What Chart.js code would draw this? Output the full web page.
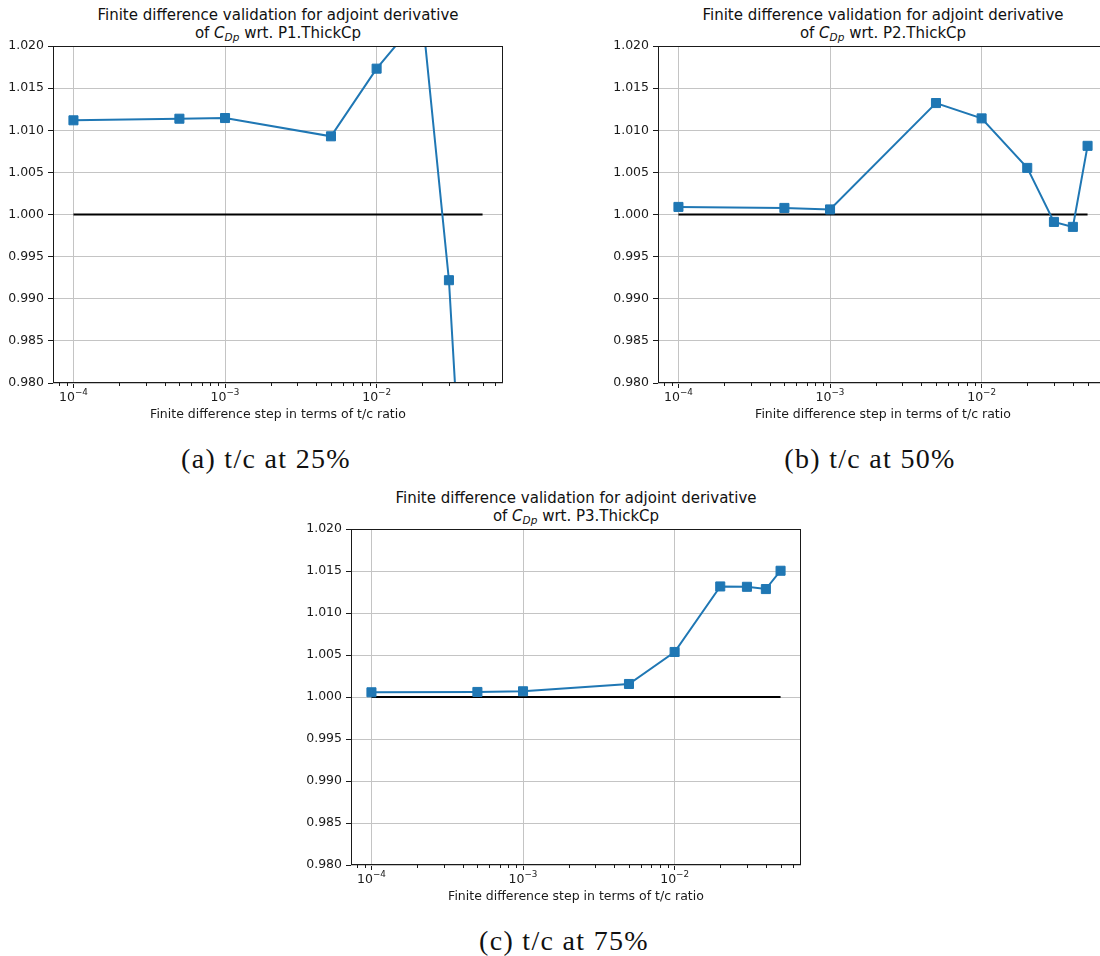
<!DOCTYPE html>
<html>
<head>
<meta charset="utf-8">
<script src="https://cdn.jsdelivr.net/npm/chart.js@4.4.0/dist/chart.umd.min.js"></script>
<style>
  html, body { margin: 0; padding: 0; background: #fff; }
  body { width: 1100px; height: 956px; overflow: hidden; position: relative; }
  canvas { position: absolute; }
  .title {
    position: absolute; width: 460px; text-align: center;
    font: 15px "DejaVu Sans", sans-serif; line-height: 18px; color: #111;
  }
  .title sub { font-size: 10.5px; vertical-align: -3px; line-height: 0; }
  .caption {
    position: absolute; width: 300px; text-align: center;
    font: 28px "Liberation Serif", serif; line-height: 32px; color: #111;
    letter-spacing: 1.3px;
  }
</style>
</head>
<body>
<div class="title" id="titleA">Finite difference validation for adjoint derivative<br>of <i>C</i><sub><i>Dp</i></sub> wrt. P1.ThickCp</div>
<div class="title" id="titleB">Finite difference validation for adjoint derivative<br>of <i>C</i><sub><i>Dp</i></sub> wrt. P2.ThickCp</div>
<div class="title" id="titleC">Finite difference validation for adjoint derivative<br>of <i>C</i><sub><i>Dp</i></sub> wrt. P3.ThickCp</div>
<canvas id="chartA" width="513" height="389" style="left:0px;top:34px"></canvas>
<canvas id="chartB" width="513" height="389" style="left:605px;top:34px"></canvas>
<canvas id="chartC" width="513" height="388" style="left:298px;top:517px"></canvas>
<div class="caption" style="left:116px;top:443px">(a) t/c at 25%</div>
<div class="caption" style="left:720px;top:443px">(b) t/c at 50%</div>
<div class="caption" style="left:414px;top:925px">(c) t/c at 75%</div>

<script>
// finite difference steps (t/c ratio)
const steps = [1e-4, 5e-4, 1e-3, 5e-3, 1e-2, 2e-2, 3e-2, 4e-2, 5e-2];

// ratio FD / adjoint for each thickness control point
const ratioP1 = [1.01118, 1.01137, 1.01145, 1.00928, 1.01731, 1.0238, 0.9922, 0.9537, 0.93];
const ratioP2 = [1.0009, 1.00078, 1.0006, 1.01323, 1.01141, 1.00553, 0.99912, 0.99853, 1.00815];
const ratioP3 = [1.00056, 1.0006, 1.00068, 1.00155, 1.00536, 1.01316, 1.01312, 1.01285, 1.01503];

// reference line y = 1
const refSteps = [1e-4, 5e-2];
const refValues = [1.0, 1.0];

// axes
const xMin = 7.33e-5, xMax = 0.0682;
const majorTicks = [1e-4, 1e-3, 1e-2];
const majorBase = ['10', '10', '10'];
const majorExp = ['\u22124', '\u22123', '\u22122'];
const minorTicks = [8e-5, 9e-5,
  2e-4, 3e-4, 4e-4, 5e-4, 6e-4, 7e-4, 8e-4, 9e-4,
  2e-3, 3e-3, 4e-3, 5e-3, 6e-3, 7e-3, 8e-3, 9e-3,
  2e-2, 3e-2, 4e-2, 5e-2, 6e-2];
const yTicks = [0.98, 0.985, 0.99, 0.995, 1.0, 1.005, 1.01, 1.015, 1.02];
const yLabels = ['0.980', '0.985', '0.990', '0.995', '1.000', '1.005', '1.010', '1.015', '1.020'];

const BLUE = '#1f77b4';
const GRID = '#c4c4c4';
const INK = '#1a1a1a';
const FONT = '"DejaVu Sans", sans-serif';

Chart.defaults.font.family = FONT;
Chart.defaults.font.size = 12.5;
Chart.defaults.color = INK;

// axes frame (all four spines), short minor ticks and 10^n labels on the log axis
const framePlugin = {
  id: 'frame',
  afterDraw(chart) {
    const { ctx, chartArea: a } = chart;
    const xs = chart.scales.x;
    ctx.save();
    ctx.strokeStyle = INK;
    ctx.lineWidth = 1;
    ctx.beginPath();
    minorTicks.forEach(v => {
      const px = Math.round(xs.getPixelForValue(v)) + 0.5;
      ctx.moveTo(px, a.bottom);
      ctx.lineTo(px, a.bottom + 3);
    });
    ctx.stroke();
    ctx.strokeRect(a.left + 0.5, a.top + 0.5, a.right - a.left - 1, a.bottom - a.top - 1);

    // major tick labels as 10 with a raised exponent
    ctx.fillStyle = INK;
    ctx.textBaseline = 'alphabetic';
    ctx.textAlign = 'left';
    majorTicks.forEach((v, i) => {
      const px = xs.getPixelForValue(v);
      ctx.font = '12.5px ' + FONT;
      const w1 = ctx.measureText(majorBase[i]).width;
      ctx.font = '8.8px ' + FONT;
      const w2 = ctx.measureText(majorExp[i]).width;
      const x0 = px - (w1 + w2) / 2;
      const base = a.bottom + 17.7;
      ctx.font = '12.5px ' + FONT;
      ctx.fillText(majorBase[i], x0, base);
      ctx.font = '8.8px ' + FONT;
      ctx.fillText(majorExp[i], x0 + w1, base - 5.5);
    });
    ctx.restore();
  }
};

function makePanel(id, values) {
  const ctx = document.getElementById(id).getContext('2d');
  return new Chart(ctx, {
    type: 'line',
    data: {
      datasets: [{
        data: steps.map((s, i) => ({ x: s, y: values[i] })),
        borderColor: BLUE,
        backgroundColor: BLUE,
        borderWidth: 2,
        pointStyle: 'rect',
        pointRadius: 6.4,
        pointBorderWidth: 1,
        pointBorderColor: BLUE,
        pointBackgroundColor: BLUE,
        clip: 0,
        order: 0
      }, {
        data: refSteps.map((s, i) => ({ x: s, y: refValues[i] })),
        borderColor: '#000',
        borderWidth: 2,
        pointRadius: 0,
        clip: 0,
        order: 1
      }]
    },
    options: {
      responsive: false,
      animation: false,
      devicePixelRatio: 1,
      layout: { padding: { top: 12, right: 10, bottom: 0, left: 0 } },
      plugins: { legend: { display: false }, tooltip: { enabled: false }, title: { display: false } },
      scales: {
        x: {
          type: 'logarithmic',
          bounds: 'data',
          min: xMin,
          max: xMax,
          afterBuildTicks: s => { s.ticks = majorTicks.map(v => ({ value: v })); },
          afterFit: s => { s.height = 40; },
          grid: { color: GRID, tickColor: INK, lineWidth: 1, tickLength: 5 },
          border: { display: false },
          ticks: {
            autoSkip: false,
            maxRotation: 0,
            callback: () => ''
          },
          title: {
            display: true,
            text: 'Finite difference step in terms of t/c ratio',
            color: INK,
            font: { size: 12.5 },
            padding: { top: 0, bottom: 1 }
          }
        },
        y: {
          type: 'linear',
          min: 0.98,
          max: 1.02,
          afterBuildTicks: s => { s.ticks = yTicks.map(v => ({ value: v })); },
          afterFit: s => { s.width = 53; },
          grid: { color: GRID, lineWidth: 1, tickColor: INK, tickLength: 5 },
          border: { display: false },
          ticks: {
            padding: 4,
            color: INK,
            callback: v => {
              const k = yTicks.findIndex(t => Math.abs(t - v) < 1e-9);
              return k >= 0 ? yLabels[k] : '';
            }
          }
        }
      }
    },
    plugins: [framePlugin]
  });
}

const charts = [
  makePanel('chartA', ratioP1),
  makePanel('chartB', ratioP2),
  makePanel('chartC', ratioP3)
];

// centre each title over its plot area
[['titleA', 0], ['titleB', 1], ['titleC', 2]].forEach(([tid, i]) => {
  const ch = charts[i];
  const cv = ch.canvas;
  const a = ch.chartArea;
  const el = document.getElementById(tid);
  const cx = cv.offsetLeft + (a.left + a.right) / 2;
  el.style.left = (cx - 230) + 'px';
  el.style.top = (cv.offsetTop + a.top - 40) + 'px';
});
</script>
</body>
</html>
